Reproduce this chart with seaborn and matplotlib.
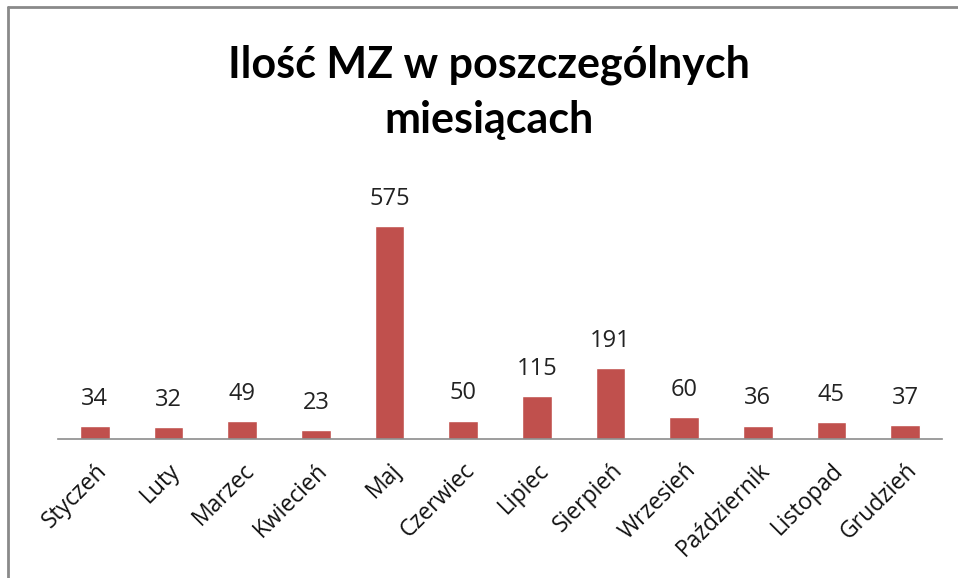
import matplotlib
matplotlib.use("Agg")
import matplotlib.pyplot as plt
import seaborn as sns
import pandas as pd
from matplotlib.lines import Line2D

months = ["Styczeń", "Luty", "Marzec", "Kwiecień", "Maj", "Czerwiec",
          "Lipiec", "Sierpień", "Wrzesień", "Październik", "Listopad", "Grudzień"]
counts = [34, 32, 49, 23, 575, 50, 115, 191, 60, 36, 45, 37]
title = "Ilość MZ w poszczególnych\nmiesiącach"

df = pd.DataFrame({"miesiac": months, "ilosc": counts})

sns.set_style("white")
plt.rcParams["font.family"] = ["Open Sans", "DejaVu Sans"]

fig = plt.figure(figsize=(9.58, 5.78), dpi=100)
ax = fig.add_axes([58 / 958, 139 / 578, 884 / 958, 259 / 578])

sns.barplot(data=df, x="miesiac", y="ilosc", color="#C0504D", width=0.4,
            saturation=1, ax=ax)

ax.set_ylim(0, 700)
ax.set_xlim(-0.5, len(months) - 0.5)
ax.set_xlabel("")
ax.set_ylabel("")
ax.set_yticks([])
for side in ["top", "right", "left"]:
    ax.spines[side].set_visible(False)
ax.spines["bottom"].set_color("#8c8c8c")
ax.spines["bottom"].set_linewidth(1.2)

ax.tick_params(axis="x", length=0, pad=14)
ax.set_xticks(range(len(months)))
ax.set_xticklabels(months, rotation=45, ha="right", rotation_mode="anchor",
                   fontsize=16.5, color="#111111")

for i, v in enumerate(counts):
    ax.annotate(str(v), (i, v), xytext=(0, 11), textcoords="offset points",
                ha="center", va="bottom", fontsize=17, color="#222222")

fig.text(0.51, 0.84, title, ha="center", va="center", fontsize=31,
         fontweight="bold", family=["Lato", "DejaVu Sans"], linespacing=1.45,
         color="black")

# chart frame (only top and left edges visible)
fig.add_artist(Line2D([8 / 958, 1.0], [1 - 7 / 578, 1 - 7 / 578],
                      transform=fig.transFigure, color="#8a8a8a", lw=2))
fig.add_artist(Line2D([8 / 958, 8 / 958], [0.0, 1 - 7 / 578],
                      transform=fig.transFigure, color="#8a8a8a", lw=2))

fig.savefig("out.png", dpi=100)
